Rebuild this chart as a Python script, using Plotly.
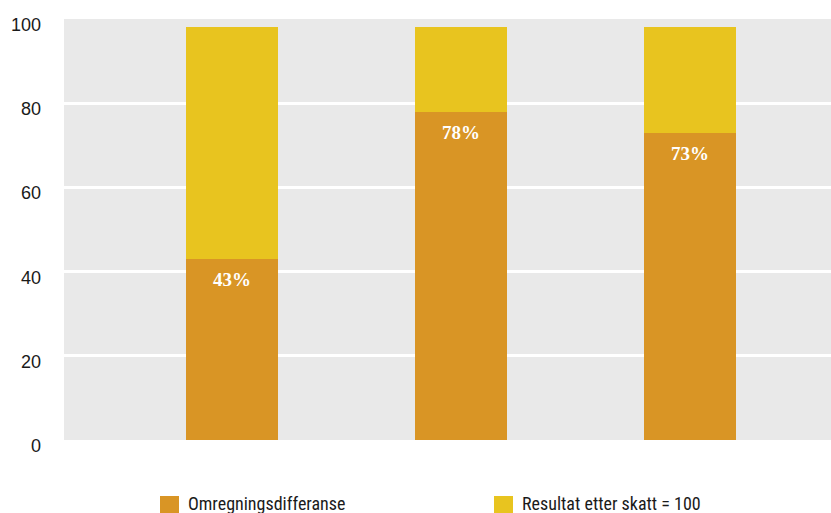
import plotly.graph_objects as go

# Chart data
categories = [0, 1, 2]
omregning = [43, 78, 73]          # Omregningsdifferanse (% of result)
resultat_rest = [55, 20, 25]      # remaining part of Resultat etter skatt
y_ticks = [0, 20, 40, 60, 80, 100]
series_names = ["Omregningsdifferanse", "Resultat etter skatt = 100"]

ORANGE = "#D99525"
YELLOW = "#E8C41F"
BG = "#E9E9E9"

W, H = 831, 513
L, R, T, B = 64, 0, 19, 73
PW, PH = W - L - R, H - T - B

fig = go.Figure()
fig.add_trace(go.Bar(x=categories, y=omregning, name=series_names[0],
                     marker=dict(color=ORANGE, line=dict(width=0)), width=0.402))
fig.add_trace(go.Bar(x=categories, y=resultat_rest, name=series_names[1],
                     marker=dict(color=YELLOW, line=dict(width=0)), width=0.402))

fig.update_layout(
    width=W, height=H,
    barmode="stack",
    showlegend=False,
    paper_bgcolor="white",
    plot_bgcolor=BG,
    margin=dict(l=L, r=R, t=T, b=B, pad=0),
    xaxis=dict(range=[-0.734, 2.616], showticklabels=False, showgrid=False,
               zeroline=False, ticks=""),
    yaxis=dict(range=[0, 100], tickvals=y_ticks, showticklabels=False,
               showgrid=True, gridcolor="white", gridwidth=2.5,
               zeroline=False, ticks=""),
)

# Value labels inside the orange segments
for c, v in zip(categories, omregning):
    fig.add_annotation(x=c, y=v, xref="x", yref="y", text=f"{v}%",
                       showarrow=False, yshift=-21, yanchor="middle",
                       font=dict(family="Liberation Serif, DejaVu Serif, serif",
                                 size=19, color="white", weight="bold"))

# Y-axis tick labels
for t in y_ticks:
    fig.add_annotation(x=0, y=t, xref="paper", yref="y", text=str(t),
                       showarrow=False, xanchor="right", yanchor="middle",
                       xshift=-(L - 43), yshift=-6,
                       font=dict(family="Liberation Sans, Arial, sans-serif",
                                 size=18, color="#1a1a1a"))

# Legend drawn below the plot
def px_x(px):
    return (px - L) / PW

def px_y(py):
    return (H - B - py) / PH

legend_items = [(160, ORANGE, series_names[0]), (494, YELLOW, series_names[1])]
for x0, col, name in legend_items:
    fig.add_shape(type="rect", xref="paper", yref="paper",
                  x0=px_x(x0), x1=px_x(x0 + 19), y0=px_y(496), y1=px_y(514),
                  fillcolor=col, line=dict(width=0), layer="above")
    fig.add_annotation(x=px_x(x0 + 26), y=px_y(503.5), xref="paper", yref="paper",
                       text=name, showarrow=False, xanchor="left", yanchor="middle",
                       font=dict(family="Liberation Sans Narrow, Roboto Condensed, Arial Narrow, sans-serif",
                                 size=18, color="#1a1a1a"))

fig.write_html("out.html")
